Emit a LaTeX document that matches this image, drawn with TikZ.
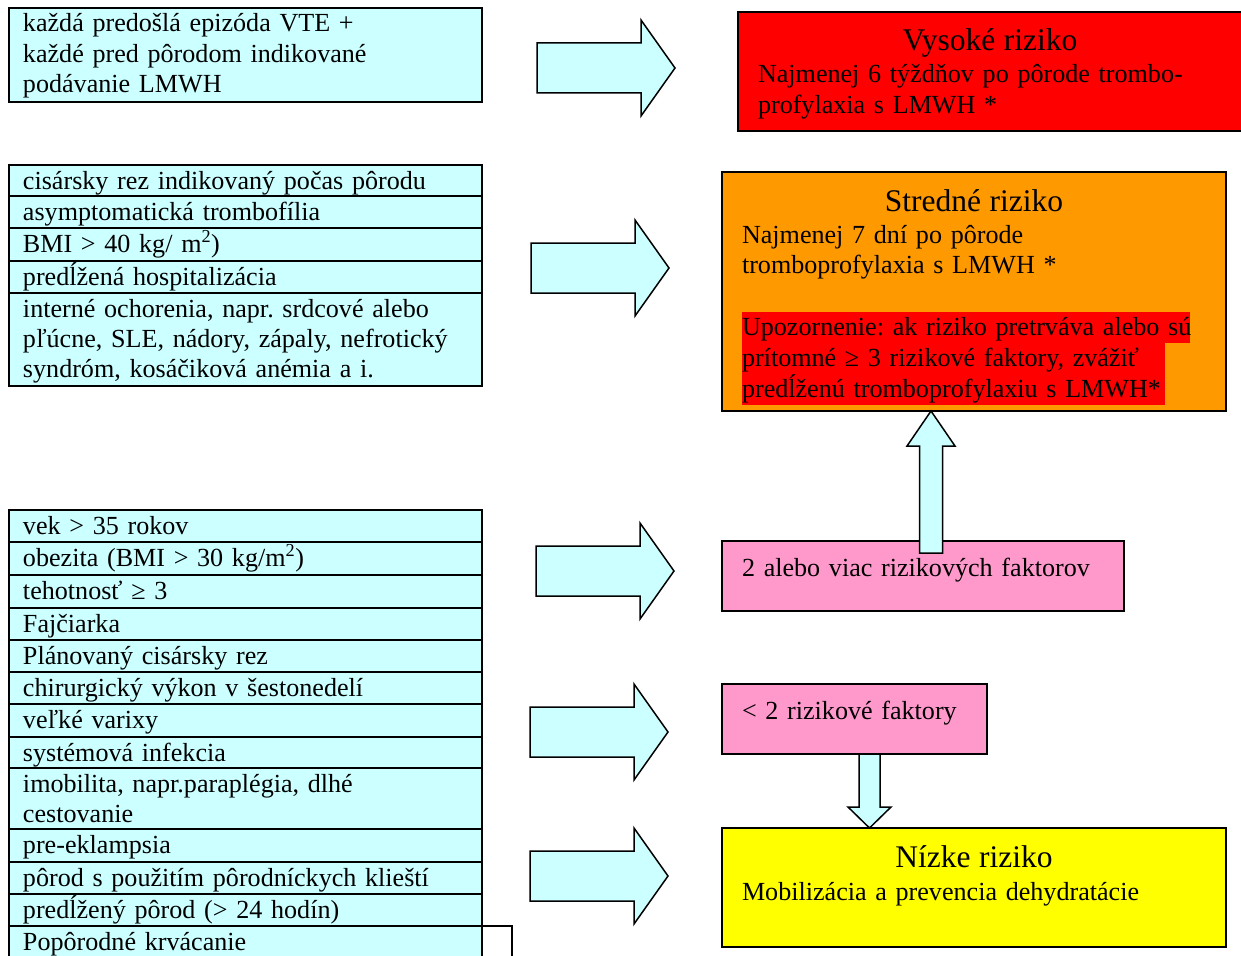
\documentclass[tikz,border=0pt]{standalone}
\usepackage{fontspec}
\setmainfont{Liberation Serif}
\usetikzlibrary{calc}

\definecolor{cellcyan}{HTML}{CCFFFF}
\definecolor{riskorange}{HTML}{FF9900}
\definecolor{riskpink}{HTML}{FF99CC}
\definecolor{riskyellow}{HTML}{FFFF00}
\definecolor{riskred}{HTML}{FF0000}

\newcommand{\bodyfnt}{\fontsize{26.1pt}{30.3pt}\selectfont\frenchspacing}
\newcommand{\titlefnt}{\fontsize{31.5pt}{34pt}\selectfont}
\newcommand{\hilite}[2]{{\setlength{\fboxsep}{0pt}\colorbox{riskred}{\makebox[#1][l]{\rule[-8pt]{0pt}{31pt}#2}}}}

\tikzset{
	cell/.style={draw, fill=cellcyan, line width=1.5pt, outer sep=0pt, anchor=north west, inner xsep=14pt, inner ysep=0pt,
		text width=445pt, align=left, text height=24pt, text depth=#1, font=\bodyfnt},
	riskbox/.style={draw, line width=1.5pt, outer sep=0pt, anchor=north west, inner xsep=20pt, inner ysep=0pt,
		align=left, font=\bodyfnt},
	arrowfill/.style={draw, fill=cellcyan, line width=1.5pt, line join=miter},
	fatarrow/.pic={\draw[arrowfill] (0,-25)--(104,-25)--(104,-48)--(138,0)--(104,48)--(104,25)--(0,25)--cycle;}
}

\begin{document}
\begin{tikzpicture}[x=1pt, y=-1pt]
	\useasboundingbox (0,0) rectangle (1241,955);
	
	% left: risk factors
	\node[cell=70pt] (prev) at (9,8) {každá predošlá epizóda VTE +\\ každé pred pôrodom indikované\\ podávanie LMWH};
	
	\node[cell=7pt] (m1) at (9,165) {cisársky rez indikovaný počas pôrodu};
	\node[cell=8pt] (m2) at (m1.south west) {asymptomatická trombofília};
	\node[cell=9pt] (m3) at (m2.south west) {BMI > 40 kg/ m\textsuperscript{2})};
	\node[cell=8pt] (m4) at (m3.south west) {predĺžená hospitalizácia};
	\node[cell=69pt] (m5) at (m4.south west) {interné ochorenia, napr. srdcové alebo\\ pľúcne, SLE, nádory, zápaly, nefrotický\\ syndróm, kosáčiková anémia a i.};
	
	\node[cell=8pt] (l1) at (9,510) {vek > 35 rokov};
	\node[cell=9pt] (l2) at (l1.south west) {obezita (BMI > 30 kg/m\textsuperscript{2})};
	\node[cell=9pt] (l3) at (l2.south west) {tehotnosť ≥ 3};
	\node[cell=8pt] (l4) at (l3.south west) {Fajčiarka};
	\node[cell=8pt] (l5) at (l4.south west) {Plánovaný cisársky rez};
	\node[cell=8pt] (l6) at (l5.south west) {chirurgický výkon v šestonedelí};
	\node[cell=9pt] (l7) at (l6.south west) {veľké varixy};
	\node[cell=7pt] (l8) at (l7.south west) {systémová infekcia};
	\node[cell=37pt] (l9) at (l8.south west) {imobilita, napr.paraplégia, dlhé\\ cestovanie};
	\node[cell=9pt] (l10) at (l9.south west) {pre-eklampsia};
	\node[cell=8pt] (l11) at (l10.south west) {pôrod s použitím pôrodníckych klieští};
	\node[cell=8pt] (l12) at (l11.south west) {predĺžený pôrod (> 24 hodín)};
	\node[cell=36pt] (l13) at (l12.south west) {Popôrodné krvácanie};
	\draw[line width=1.5pt] (l13.north east) -- ++(30,0) -- ++(0,40);
	
	% right: risk levels
	\node[riskbox, fill=riskred, text width=464pt, text height=39pt, text depth=80pt] (high) at (738,12)
		{{\titlefnt\centering Vysoké riziko\par}\vspace{1.7pt}Najmenej 6 týždňov po pôrode trombo-\\ profylaxia s LMWH *};
	\node[riskbox, fill=riskorange, text width=464pt, text height=39pt, text depth=200pt] (medium) at (722,172)
		{{\titlefnt\centering Stredné riziko\par}\vspace{1.7pt}Najmenej 7 dní po pôrode\\ tromboprofylaxia s LMWH *\par
		\vspace{31pt}{\baselineskip=31pt \lineskip=0pt
		\hilite{448pt}{Upozornenie: ak riziko pretrváva alebo sú}\par
		\hilite{423pt}{prítomné ≥ 3 rizikové faktory, zvážiť}\par
		\hilite{423pt}{predĺženú tromboprofylaxiu s LMWH*}\par}};
	\node[riskbox, fill=riskpink, text width=362pt, text height=35pt, text depth=35pt] (twomore) at (722,541)
		{2 alebo viac rizikových faktorov};
	\node[riskbox, fill=riskpink, text width=225pt, text height=35pt, text depth=35pt] (lesstwo) at (722,684)
		{< 2 rizikové faktory};
	\node[riskbox, fill=riskyellow, text width=464pt, text height=39pt, text depth=80pt] (low) at (722,828)
		{{\titlefnt\centering Nízke riziko\par}\vspace{2.7pt}Mobilizácia a prevencia dehydratácie};
	
	% block arrows
	\pic at (537,68) {fatarrow};
	\pic at (531,268) {fatarrow};
	\pic at (536,571) {fatarrow};
	\pic at (530,732) {fatarrow};
	\pic at (530,876) {fatarrow};
	
	\draw[arrowfill] let \p1=(medium.south), \p2=(twomore.north) in
		(931pt,\y1) -- (955pt,\y1-35pt) -- (942.5pt,\y1-35pt) -- (942.5pt,\y2-12pt)
		-- (919.5pt,\y2-12pt) -- (919.5pt,\y1-35pt) -- (907pt,\y1-35pt) -- cycle;
	\draw[arrowfill] let \p1=(lesstwo.south), \p2=(low.north) in
		(859pt,\y1) -- (880pt,\y1) -- (880pt,\y2+21pt) -- (891pt,\y2+21pt)
		-- (869.5pt,\y2) -- (848pt,\y2+21pt) -- (859pt,\y2+21pt) -- cycle;
\end{tikzpicture}
\end{document}
